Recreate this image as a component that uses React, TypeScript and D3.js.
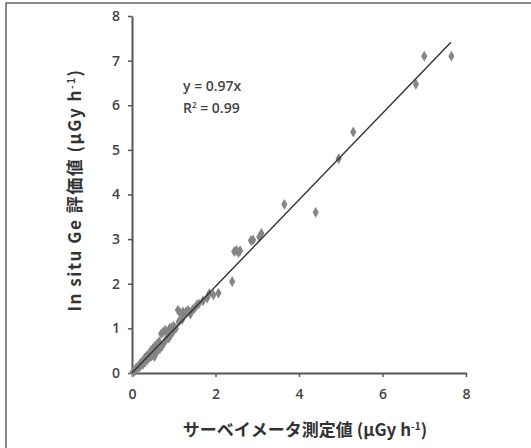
import { useEffect, useRef } from 'react';
import * as d3 from 'd3';

// measured dose rate (survey meter) vs in situ Ge estimate, µGy/h
const surveyX = [
  0.02, 0.05, 0.08, 0.1, 0.12, 0.15, 0.18, 0.2, 0.22, 0.25, 0.27, 0.3, 0.32, 0.35, 0.37,
  0.4, 0.42, 0.45, 0.47, 0.5, 0.52, 0.54, 0.55, 0.57, 0.59, 0.6, 0.62, 0.65, 0.67, 0.7,
  0.72, 0.75, 0.77, 0.8, 0.82, 0.85, 0.88, 0.9, 0.93, 0.95, 0.98, 1.0, 1.05, 1.1, 1.12,
  1.15, 1.2, 1.22, 1.25, 1.3, 1.35, 1.4, 1.45, 1.5, 1.55, 1.6, 1.7, 1.8, 1.85, 1.95, 2.07,
  2.4, 2.45, 2.5, 2.55, 2.59, 2.85, 2.9, 3.05, 3.1, 3.65, 4.4, 4.95, 5.3, 6.8, 7.0, 7.65,
];
const geY = [
  0.02, 0.04, 0.06, 0.12, 0.09, 0.15, 0.14, 0.22, 0.17, 0.26, 0.2, 0.33, 0.25, 0.38, 0.3,
  0.42, 0.35, 0.5, 0.38, 0.55, 0.42, 0.37, 0.6, 0.46, 0.52, 0.65, 0.5, 0.7, 0.55, 0.88,
  0.6, 0.92, 0.68, 0.96, 0.75, 0.9, 0.78, 1.0, 0.85, 1.02, 0.92, 1.05, 1.0, 1.41, 1.15,
  1.35, 1.2, 1.37, 1.3, 1.38, 1.4, 1.32, 1.42, 1.45, 1.52, 1.55, 1.62, 1.68, 1.78, 1.75, 1.79,
  2.05, 2.72, 2.75, 2.7, 2.74, 2.97, 2.98, 3.05, 3.13, 3.78, 3.6, 4.8, 5.4, 6.47, 7.1, 7.1,
];
const slope = 0.97;
const lineEndX = 7.64;
const xTicks = [0, 2, 4, 6, 8];
const yTicks = [0, 1, 2, 3, 4, 5, 6, 7, 8];

const W = 531, H = 448;
const font = '"Open Sans", "Liberation Sans", sans-serif';
const jpFont = '"Noto Sans CJK JP", "Open Sans", sans-serif';

export default function App() {
  const ref = useRef<SVGSVGElement>(null);

  useEffect(() => {
    const svg = d3.select(ref.current);
    svg.selectAll('*').remove();

    const x = d3.scaleLinear().domain([0, 8]).range([132, 466]);
    const y = d3.scaleLinear().domain([0, 8]).range([373, 16]);

    // frame (only top/left visible in the scan)
    svg.append('path').attr('d', `M6,${H} V3 H${W}`)
      .attr('fill', 'none').attr('stroke', '#666').attr('stroke-width', 1.5);

    const axisCol = '#555';
    const xAxis = svg.append('g').attr('transform', `translate(0,${y(0)})`)
      .call(d3.axisBottom(x).tickValues(xTicks).tickSize(4).tickSizeOuter(0).tickPadding(12));
    const yAxis = svg.append('g').attr('transform', `translate(${x(0)},0)`)
      .call(d3.axisLeft(y).tickValues(yTicks).tickSize(4).tickSizeOuter(0).tickPadding(8));
    [xAxis, yAxis].forEach(a => {
      a.select('.domain').attr('stroke', axisCol).attr('stroke-width', 2);
      a.selectAll('.tick line').attr('stroke', axisCol).attr('stroke-width', 1.5);
      a.selectAll('.tick text').attr('fill', '#444').style('font-family', font)
        .style('font-size', '14px').style('font-weight', 600);
    });

    const pts = surveyX.map((v, i) => [v, geY[i]]);
    svg.append('g').selectAll('path').data(pts).enter().append('path')
      .attr('d', d3.symbol(d3.symbolDiamond, 34)())
      .attr('transform', d => `translate(${x(d[0])},${y(d[1])})`)
      .attr('fill', '#858585');

    svg.append('line')
      .attr('x1', x(0)).attr('y1', y(0))
      .attr('x2', x(lineEndX)).attr('y2', y(slope * lineEndX))
      .attr('stroke', '#333').attr('stroke-width', 1.4);

    const eq = svg.append('g').style('font-family', font).style('font-size', '14px')
      .style('font-weight', 600).attr('fill', '#444');
    eq.append('text').attr('x', 183).attr('y', 91).text(`y = ${slope}x`);
    const r2 = eq.append('text').attr('x', 183).attr('y', 113);
    r2.append('tspan').text('R');
    r2.append('tspan').attr('dy', -5).style('font-size', '8px').text('2');
    r2.append('tspan').attr('dy', 5).text(' = 0.99');

    const unit = (t: any) => {
      t.append('tspan').text(' (µGy h');
      t.append('tspan').attr('dy', -6).style('font-size', '10px').text('-1');
      t.append('tspan').attr('dy', 6).text(')');
    };

    const xt = svg.append('text').attr('x', 305).attr('y', 436).attr('text-anchor', 'middle')
      .attr('fill', '#333').style('font-family', jpFont).style('font-size', '17px')
      .style('font-weight', 700);
    xt.append('tspan').text('サーベイメータ測定値');
    unit(xt);

    const yt = svg.append('text').attr('transform', 'translate(81,190) rotate(-90)')
      .attr('text-anchor', 'middle').attr('fill', '#333').style('font-family', jpFont)
      .style('font-size', '17px').style('font-weight', 700).style('letter-spacing', '1.5px');
    yt.append('tspan').text('In situ Ge 評価値');
    unit(yt);
  }, []);

  return <svg ref={ref} width={W} height={H} style={{ display: 'block', position: 'absolute', left: 0, top: 0, background: '#fff' }} />;
}
